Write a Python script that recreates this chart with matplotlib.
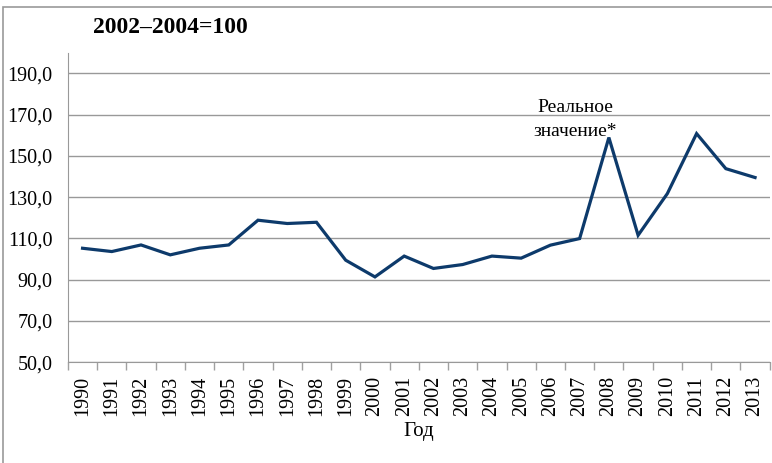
import matplotlib
matplotlib.use("Agg")
import matplotlib.pyplot as plt
from matplotlib.patches import Rectangle

years = [str(y) for y in range(1990, 2014)]
values = [105.2, 103.6, 106.8, 102.0, 105.2, 106.8, 118.8, 117.2, 117.8, 99.4,
          91.3, 101.4, 95.4, 97.3, 101.4, 100.4, 106.7, 109.9, 158.9, 111.5,
          131.7, 160.8, 143.8, 139.5]
yticks = [50, 70, 90, 110, 130, 150, 170, 190]
title = "2002–2004=100"
annot = "Реальное\nзначение*"
xlabel = "Год"

plt.rcParams['font.family'] = ['Liberation Serif', 'DejaVu Serif']

fig = plt.figure(figsize=(7.72, 4.63), dpi=100)
ax = fig.add_axes([0.088, 0.218, 0.909, 0.668])

x = list(range(len(years)))
ax.plot(x, values, color='#0d3a6b', linewidth=2.3, solid_joinstyle='miter', zorder=3)

ax.set_xlim(-0.5, len(years) - 0.5)
ax.set_ylim(50, 200)
ax.set_yticks(yticks)
ax.set_yticklabels([f"{v:.1f}".replace('.', ',') for v in yticks], fontsize=14.5)
ax.set_xticks(x)
ax.set_xticklabels(years, rotation=90, fontsize=14.5)
ax.tick_params(axis='x', length=0, pad=10)
ax.tick_params(axis='y', length=0, pad=11)
# category boundary ticks
ax.set_xticks([i - 0.5 for i in range(len(years) + 1)], minor=True)
ax.tick_params(axis='x', which='minor', length=6, color='#a0a0a0', width=1)

ax.grid(axis='y', color='#999999', linewidth=1)
ax.set_axisbelow(True)
for s in ['top', 'right']:
    ax.spines[s].set_visible(False)
ax.spines['left'].set_color('#999999')
ax.spines['bottom'].set_color('#999999')

ax.text(16.85, 167.5, annot, ha='center', va='center', fontsize=14, linespacing=1.55)
ax.set_xlabel(xlabel, fontsize=15, labelpad=4)

fig.text(0.12, 0.94, title, fontsize=17, fontweight='bold', ha='left', va='center')

fig.patches.append(Rectangle((0.004, -0.01), 1.2, 0.995, transform=fig.transFigure,
                             fill=False, edgecolor='#999999', linewidth=1.2))

fig.savefig("out.png", dpi=100)
